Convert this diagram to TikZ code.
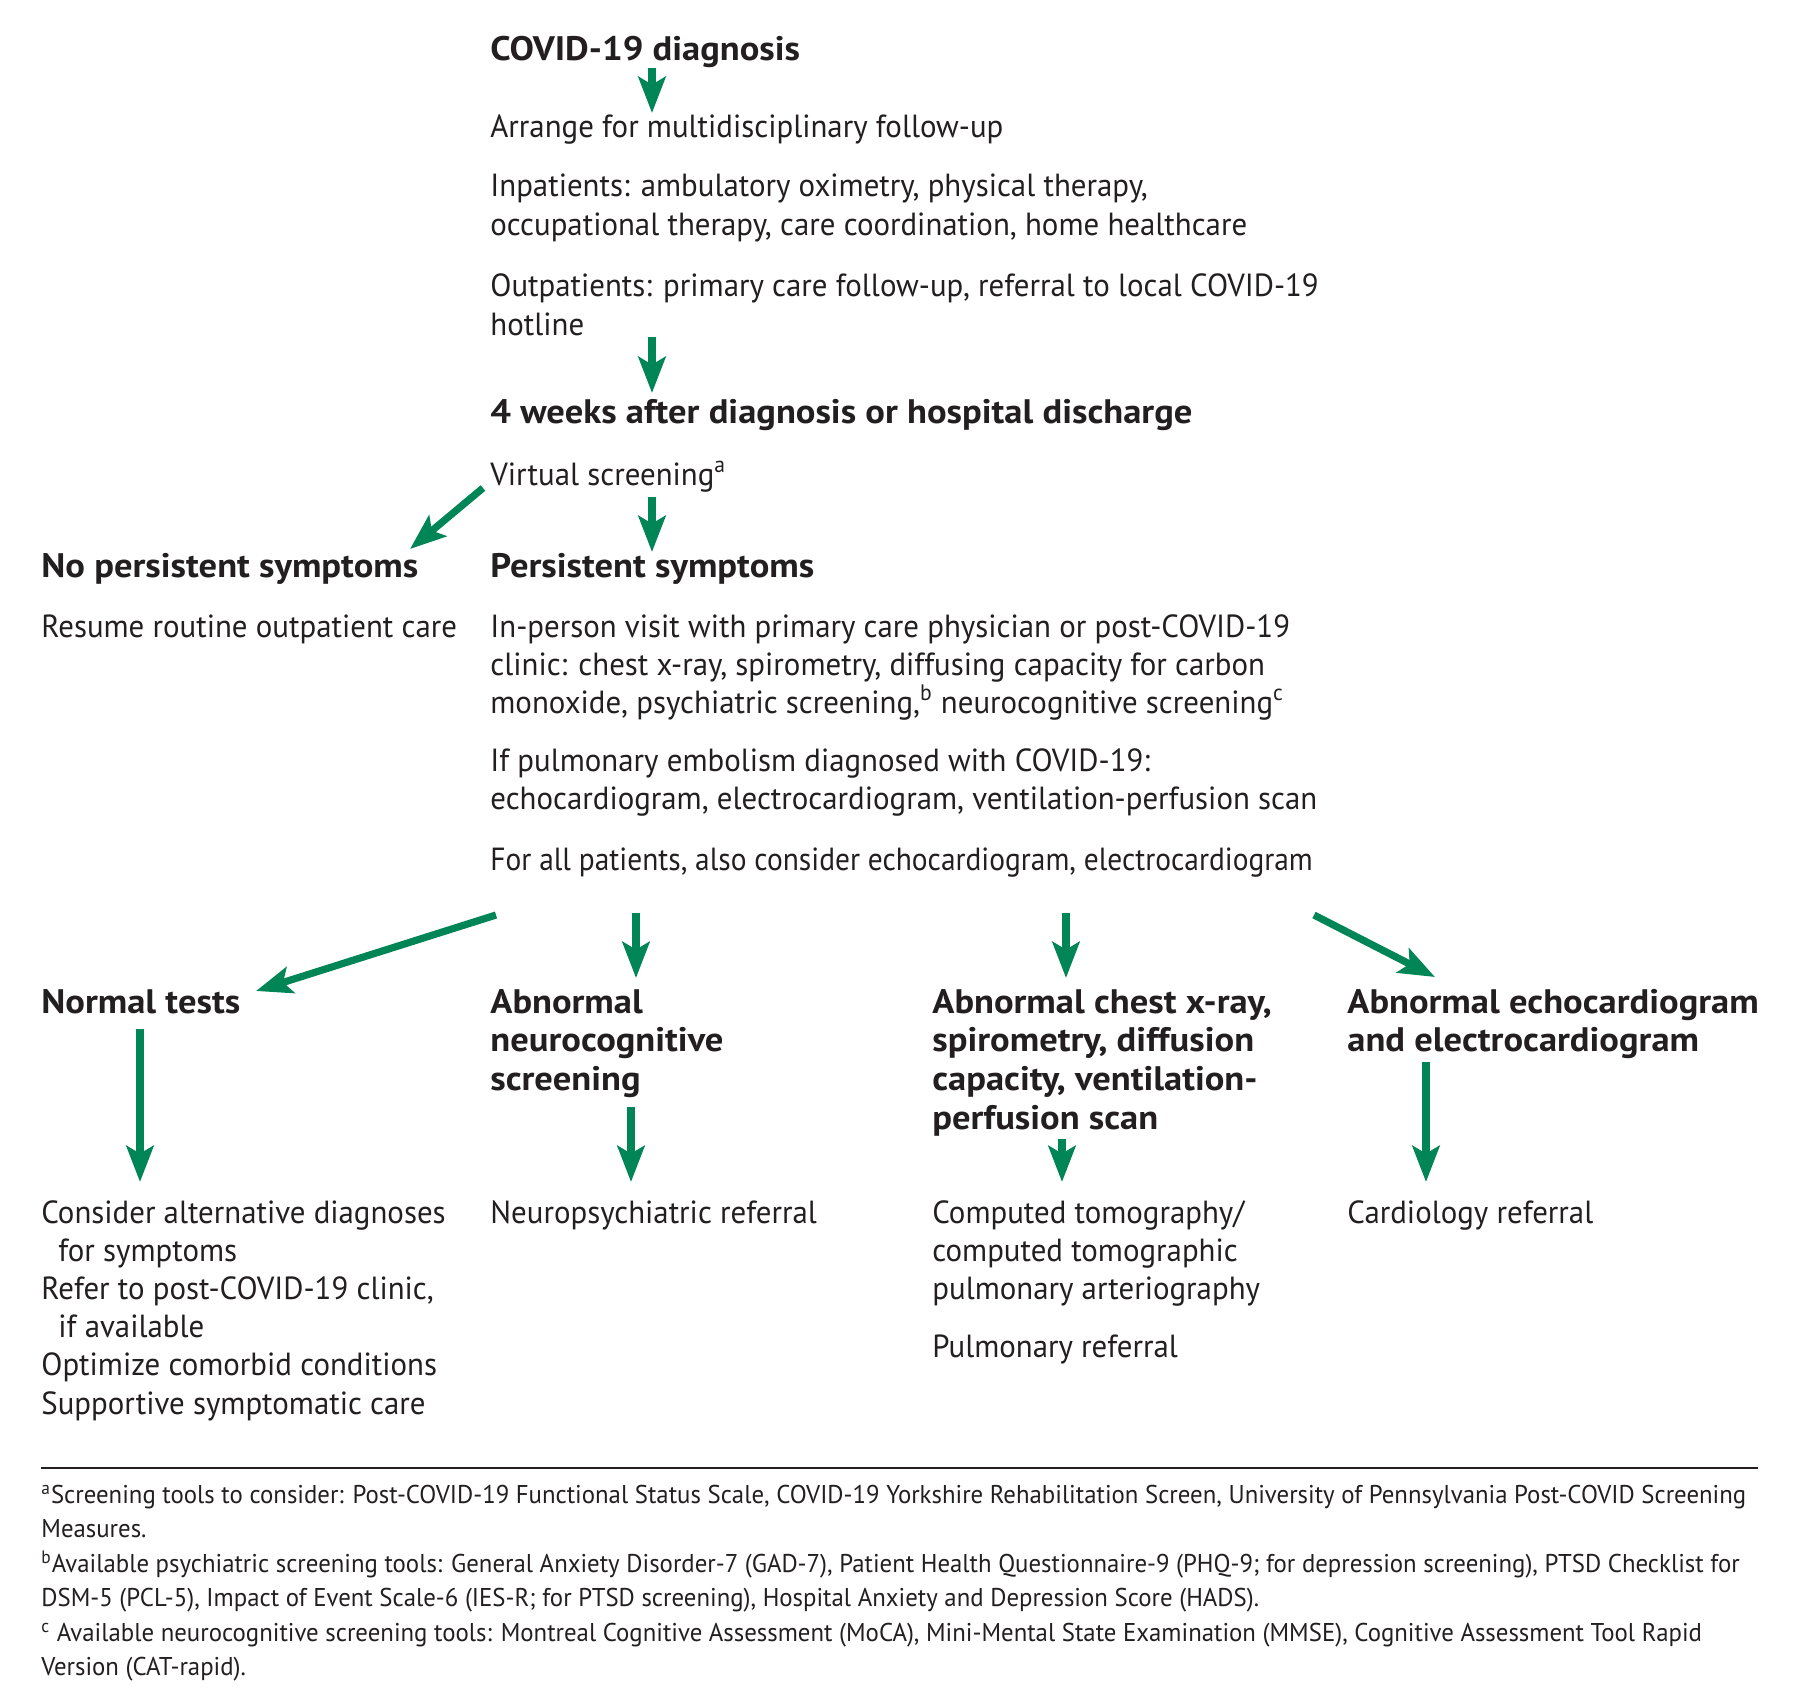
\documentclass[tikz,border=0pt]{standalone}
\usepackage{fontspec}
\setmainfont{PT Sans}[FakeStretch=0.965]
\newfontfamily\hdfont{PT Sans}[FakeStretch=1.075]
\newfontfamily\tightfont{PT Sans}[FakeStretch=0.92]
\usetikzlibrary{arrows.meta}
\definecolor{agreen}{RGB}{0,133,86}
\definecolor{ink}{RGB}{35,31,32}
\begin{document}
\begin{tikzpicture}[x=0.5pt,y=-0.5pt,
  txt/.style={anchor=base west, inner sep=0pt, align=left, text=ink, font=\fontsize{16}{19.1}\selectfont},
  tighttxt/.style={txt, font=\tightfont\fontsize{16}{19.1}\selectfont},
  hd/.style={txt, font=\hdfont\fontsize{17}{19.35}\bfseries\selectfont},
  fn/.style={txt, font=\fontsize{12.85}{17.2}\selectfont},
  arr/.style={draw=agreen, line width=3.6pt, -{Stealth[length=18pt,width=13.5pt,inset=3.8pt]}},
  rulestyle/.style={draw=ink, line width=1pt}
]
\useasboundingbox[fill=white] (0,0) rectangle (1800,1693);

% text blocks (anchor = baseline of the LAST line)
\node[hd] (dx) at (490,60) {COVID-19 diagnosis};
\node[txt] (arrange) at (490,137) {Arrange for multidisciplinary follow-up};
\node[txt] (inpat) at (490,235) {Inpatients: ambulatory oximetry, physical therapy,\\occupational therapy, care coordination, home healthcare};
\node[txt] (outpat) at (490,335) {Outpatients: primary care follow-up, referral to local COVID-19\\hotline};
\node[hd] (weeks) at (490,423) {4 weeks after diagnosis or hospital discharge};
\node[txt] (virtual) at (490,485) {Virtual screening\textsuperscript{a}};
\node[hd] (nopers) at (41,577) {No persistent symptoms};
\node[hd] (pers) at (490,577) {Persistent symptoms};
\node[txt] (resume) at (41,637) {Resume routine outpatient care};
\node[txt] (inperson) at (490,713.4) {In-person visit with primary care physician or post-COVID-19\\clinic: chest x-ray, spirometry, diffusing capacity for carbon\\monoxide, psychiatric screening,\textsuperscript{b} neurocognitive screening\textsuperscript{c}};
\node[txt] (pe) at (490,809.2) {If pulmonary embolism diagnosed with COVID-19:\\echocardiogram, electrocardiogram, ventilation-perfusion scan};
\node[tighttxt] (allpt) at (490,870) {For all patients, also consider echocardiogram, electrocardiogram};
\node[hd] (normal) at (41,1013) {Normal tests};
\node[hd] (abneuro) at (490,1090.4) {Abnormal\\neurocognitive\\screening};
\node[hd] (abchest) at (932,1129.1) {Abnormal chest x-ray,\\spirometry, diffusion\\capacity, ventilation-\\perfusion scan};
\node[hd] (abecho) at (1347,1051.7) {Abnormal echocardiogram\\and electrocardiogram};
\node[txt] (consider) at (41,1414) {Consider alternative diagnoses\\\hspace*{8.5pt}for symptoms\\Refer to post-COVID-19 clinic,\\\hspace*{8.5pt}if available\\Optimize comorbid conditions\\Supportive symptomatic care};
\node[txt] (neuroref) at (490,1223) {Neuropsychiatric referral};
\node[txt] (ct) at (932,1299.4) {Computed tomography/\\computed tomographic\\pulmonary arteriography};
\node[txt] (pulmref) at (932,1357) {Pulmonary referral};
\node[txt] (cardref) at (1347,1223) {Cardiology referral};

% footnotes
\coordinate (rl) at (41,1468);
\coordinate (rr) at (1758,1468);
\draw[rulestyle] (rl) -- (rr);
\node[fn] (fna) at (41,1537.4) {\textsuperscript{a}Screening tools to consider: Post-COVID-19 Functional Status Scale, COVID-19 Yorkshire Rehabilitation Screen, University of Pennsylvania Post-COVID Screening\\Measures.};
\node[fn] (fnb) at (41,1606.4) {\textsuperscript{b}Available psychiatric screening tools: General Anxiety Disorder-7 (GAD-7), Patient Health Questionnaire-9 (PHQ-9; for depression screening), PTSD Checklist for\\DSM-5 (PCL-5), Impact of Event Scale-6 (IES-R; for PTSD screening), Hospital Anxiety and Depression Score (HADS).};
\node[fn] (fnc) at (41,1675.4) {\textsuperscript{c} Available neurocognitive screening tools: Montreal Cognitive Assessment (MoCA), Mini-Mental State Examination (MMSE), Cognitive Assessment Tool Rapid\\Version (CAT-rapid).};

% arrow end points
\coordinate (a1s) at (652,68);   \coordinate (a1e) at (652,113);
\coordinate (a2s) at (652,337);  \coordinate (a2e) at (652,393);
\coordinate (a3s) at (483,488);  \coordinate (a3e) at (410,549);
\coordinate (a4s) at (652,497);  \coordinate (a4e) at (652,552);
\coordinate (a5s) at (496,915);  \coordinate (a5e) at (256,991);
\coordinate (a6s) at (636,913);  \coordinate (a6e) at (636,978);
\coordinate (a7s) at (1066,913); \coordinate (a7e) at (1066,978);
\coordinate (a8s) at (1314,915); \coordinate (a8e) at (1435,977);
\coordinate (b1s) at (140,1029); \coordinate (b1e) at (140,1182);
\coordinate (b2s) at (631,1107); \coordinate (b2e) at (631,1182);
\coordinate (b3s) at (1062,1139);\coordinate (b3e) at (1062,1182);
\coordinate (b4s) at (1426,1062);\coordinate (b4e) at (1426,1182);

\draw[arr] (a1s) -- (a1e);
\draw[arr] (a2s) -- (a2e);
\draw[arr] (a3s) -- (a3e);
\draw[arr] (a4s) -- (a4e);
\draw[arr] (a5s) -- (a5e);
\draw[arr] (a6s) -- (a6e);
\draw[arr] (a7s) -- (a7e);
\draw[arr] (a8s) -- (a8e);
\draw[arr] (b1s) -- (b1e);
\draw[arr] (b2s) -- (b2e);
\draw[arr] (b3s) -- (b3e);
\draw[arr] (b4s) -- (b4e);
\end{tikzpicture}
\end{document}
